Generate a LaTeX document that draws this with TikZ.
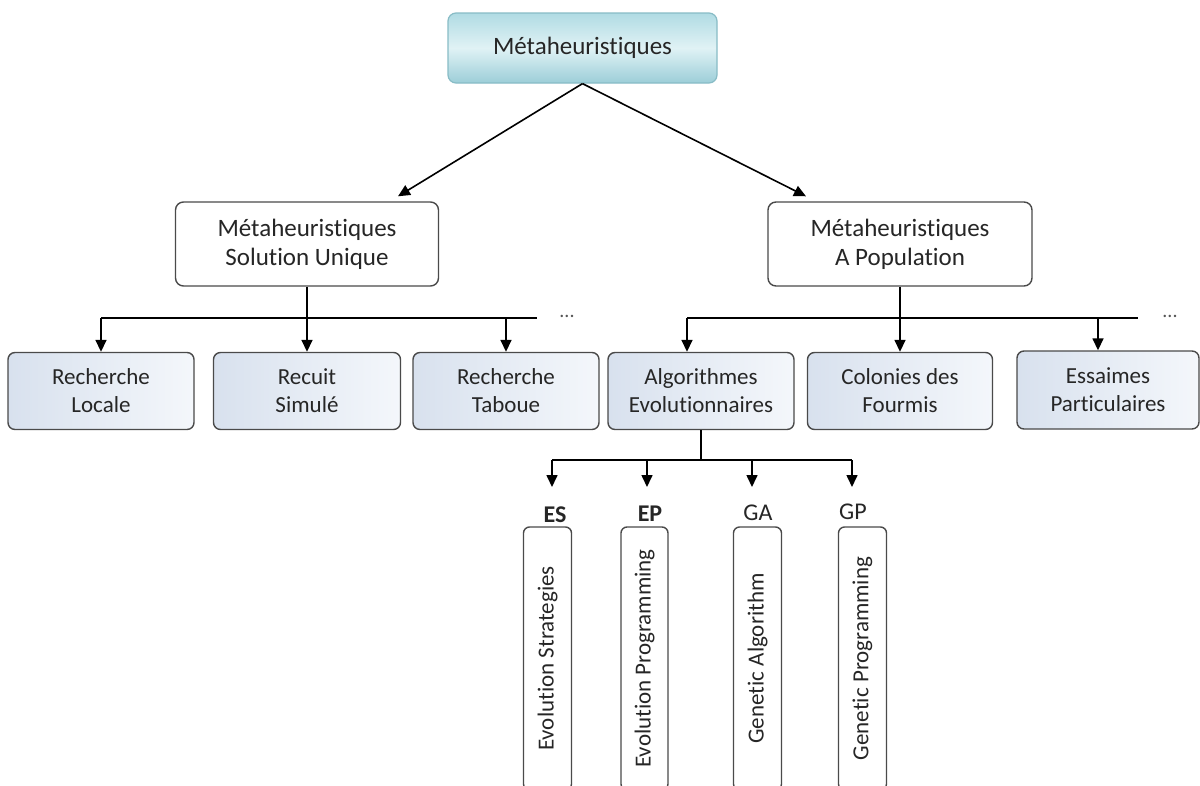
\documentclass[tikz,border=0pt]{standalone}
\usepackage{fontspec}
\setmainfont{Carlito}[Ligatures=NoCommon]
\usetikzlibrary{arrows.meta}
\definecolor{txt}{HTML}{262626}
\definecolor{boxgray}{HTML}{4A4A4A}
\definecolor{topA}{HTML}{B0DBE3}
\definecolor{topB}{HTML}{9CCED8}
\definecolor{topM}{HTML}{E0F2F5}
\definecolor{topD}{HTML}{88BCC6}
\definecolor{leafA}{HTML}{D8E1EE}
\definecolor{leafB}{HTML}{F4F7FB}
\definecolor{dotc}{HTML}{555555}
\tikzset{
  lvl/.style={draw=boxgray, line width=1.4pt, rounded corners=8pt, align=center,
    font=\fontsize{25}{29}\selectfont, text=txt, inner sep=0pt},
  topbox/.style={draw=topD, line width=1.2pt, rounded corners=8pt, align=center,
    top color=topA, bottom color=topB, middle color=topM,
    font=\fontsize{25}{29}\selectfont, text=txt, inner sep=0pt},
  leaf/.style={draw=boxgray, line width=1.4pt, rounded corners=7pt, align=center,
    left color=leafA, right color=leafB, inner sep=0pt,
    font=\fontsize{23}{28}\selectfont, text=txt, minimum height=77pt},
  tall/.style={draw=boxgray, line width=1.4pt, rounded corners=6pt, rotate=90,
    minimum height=48pt, minimum width=263pt, inner sep=0pt,
    font=\fontsize{23}{26}\selectfont, text=txt},
  lab/.style={font=\fontsize{24}{26}\selectfont, text=txt, inner sep=0pt},
  dots/.style={font=\fontsize{20}{22}\selectfont, text=dotc, inner sep=0pt},
  arr/.style={-{Triangle[length=12pt,width=11pt]}, line width=1.6pt, black},
  conn/.style={line width=1.6pt, black}
}
\begin{document}
\begin{tikzpicture}[x=1pt,y=-1pt]
\useasboundingbox (0,0) rectangle (1200,785);
\fill[white] (0,0) rectangle (1200,785);

% boxes
\node[topbox, minimum width=269pt, minimum height=70pt] (top) at (582.5,48) {Métaheuristiques};
\node[lvl, minimum width=263pt, minimum height=84pt] (su) at (307,244) {Métaheuristiques\\Solution Unique};
\node[lvl, minimum width=264pt, minimum height=84pt] (pop) at (900,244) {Métaheuristiques\\A Population};

\node[leaf, minimum width=186pt] (rl) at (101,391) {Recherche\\Locale};
\node[leaf, minimum width=187pt] (rs) at (307,391) {Recuit\\Simulé};
\node[leaf, minimum width=186pt] (rt) at (506,391) {Recherche\\Taboue};
\node[leaf, minimum width=186pt] (ae) at (701,391) {Algorithmes\\Evolutionnaires};
\node[leaf, minimum width=185pt] (cf) at (900,391) {Colonies des\\Fourmis};
\node[leaf, minimum width=182pt, minimum height=78pt] (pa) at (1108,390) {Essaimes\\Particulaires};

\node[dots] (d1) at (567,316) {...};
\node[dots] (d2) at (1170,316) {...};

% labels and tall boxes
\node[lab, font=\fontsize{24}{26}\selectfont\bfseries] (lES) at (555,515) {ES};
\node[lab, font=\fontsize{24}{26}\selectfont\bfseries] (lEP) at (650,514) {EP};
\node[lab] (lGA) at (758,513) {GA};
\node[lab] (lGP) at (853,512) {GP};

\node[tall] (es) at (547.5,658.5) {Evolution Strategies};
\node[tall, minimum height=47pt] (ep) at (644.5,658.5) {Evolution Programming};
\node[tall] (ga) at (757.5,658.5) {Genetic Algorithm};
\node[tall] (gp) at (862.5,658.5) {Genetic Programming};

% top arrows
\draw[arr] (top.south) -- ([xshift=91pt,yshift=5pt]su.north);
\draw[arr] (top.south) -- ([xshift=-94pt,yshift=5pt]pop.north);

% left tree
\coordinate (b1l) at (101,318);
\coordinate (b1r) at (537,318);
\draw[conn] (su.south) -- (su.south |- b1l);
\draw[conn] (b1l) -- (b1r);
\draw[arr] (b1l) -- (rl.north);
\draw[arr] (rs.north |- b1l) -- (rs.north);
\draw[arr] (rt.north |- b1l) -- (rt.north);

% right tree
\coordinate (b2l) at (687,318);
\coordinate (b2r) at (1138,318);
\coordinate (b2p) at (1098,318);
\draw[conn] (pop.south) -- (pop.south |- b2l);
\draw[conn] (b2l) -- (b2r);
\draw[arr] (b2l) -- (b2l |- ae.north);
\draw[arr] (cf.north |- b2l) -- (cf.north);
\draw[arr] (b2p) -- (b2p |- pa.north);

% bottom tree
\coordinate (b3l) at (552,460);
\coordinate (b3a) at (647,460);
\coordinate (b3b) at (752,460);
\coordinate (b3r) at (852,460);
\coordinate (e1) at (552,487);
\coordinate (e2) at (647,487);
\coordinate (e3) at (752,487);
\coordinate (e4) at (852,487);
\draw[conn] (ae.south) -- (ae.south |- b3l);
\draw[conn] (b3l) -- (b3r);
\draw[arr] (b3l) -- (e1);
\draw[arr] (b3a) -- (e2);
\draw[arr] (b3b) -- (e3);
\draw[arr] (b3r) -- (e4);
\end{tikzpicture}
\end{document}
